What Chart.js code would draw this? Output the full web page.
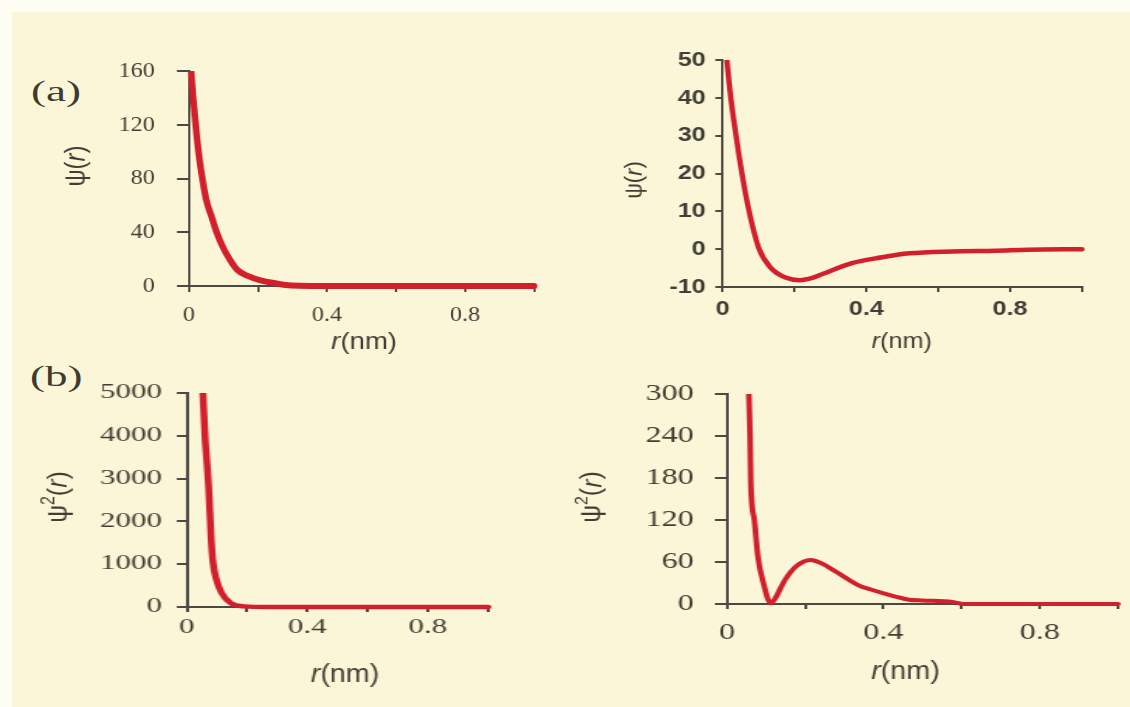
<!DOCTYPE html>
<html>
<head>
<meta charset="utf-8">
<script src="https://cdn.jsdelivr.net/npm/chart.js@4.4.1/dist/chart.umd.min.js"></script>
<style>
  html, body { margin: 0; padding: 0; }
  body { width: 1130px; height: 707px; background: #fefdf3; position: relative; overflow: hidden; }
  #paper { position: absolute; left: 12px; top: 12px; right: 0; bottom: 0; background: #fcf6d8; }
  canvas { position: absolute; transform-origin: 0 0; }
  .tag { position: absolute; font-family: "Liberation Serif", "Times New Roman", serif; font-size: 30px;
         color: #3c3b30; transform-origin: 0 0; transform: scaleX(1.5); }
</style>
</head>
<body>
<div id="paper"></div>
<div class="tag" style="left:31px;top:74px">(a)</div>
<div class="tag" style="left:30px;top:359px">(b)</div>
<canvas id="c1"></canvas>
<canvas id="c2"></canvas>
<canvas id="c3"></canvas>
<canvas id="c4"></canvas>
<script>
// shared x axis ticks (0 .. 1 step 0.2)
const xTicks = ['0', '', '0.4', '', '0.8', ''];

// (a) left: psi 1s
const r1 = [0.006, 0.012, 0.02, 0.03, 0.04, 0.05, 0.065, 0.08, 0.1, 0.12, 0.14, 0.17, 0.21, 0.25, 0.28, 0.32, 0.4, 0.6, 0.8, 1.0];
const psi1 = [160, 140, 118, 95, 78, 64, 52, 40, 28, 19, 12, 7.5, 4, 2, 0.8, 0.2, 0, 0, 0, 0];
const yTicks1 = ['0', '40', '80', '120', '160'];

// (a) right: psi 2s
const r2 = [0.012, 0.023, 0.033, 0.054, 0.074, 0.102, 0.135, 0.175, 0.215, 0.25, 0.28, 0.36, 0.44, 0.52, 0.64, 0.76, 0.85, 1.0];
const psi2 = [50, 40, 33, 20, 10, 0, -5, -7.5, -8.2, -7.6, -6.5, -3.7, -2.2, -1.1, -0.6, -0.4, -0.15, 0];
const yTicks2 = ['-10', '0', '10', '20', '30', '40', '50'];

// (b) left: psi^2 1s
const r3 = [0.053, 0.06, 0.072, 0.08, 0.086, 0.098, 0.115, 0.145, 0.19, 0.27, 0.5, 0.8, 1.0];
const psiSq1 = [5000, 3990, 2820, 1650, 1070, 640, 330, 93, 15, 0, 0, 0, 0];
const yTicks3 = ['0', '1000', '2000', '3000', '4000', '5000'];

// (b) right: psi^2 2s
const r4 = [0.056, 0.059, 0.061, 0.07, 0.079, 0.093, 0.112, 0.121, 0.149, 0.177, 0.214, 0.242, 0.279, 0.335, 0.372, 0.428, 0.465, 0.5, 0.577, 0.605, 0.8, 1.0];
const psiSq2 = [300, 238, 172, 120, 68, 30, 1, 6, 35, 54, 63, 58, 46, 27, 20, 11, 6, 5, 3, 0, 0, 0];
const yTicks4 = ['0', '60', '120', '180', '240', '300'];

const RED = '#d1202c';
const INK = '#403f35';
const AXIS = '#4a4944';
const SERIF = '"Liberation Serif", "Times New Roman", serif';
const SANS = '"Liberation Sans", Arial, sans-serif';

// axis titles with italic r / superscript 2, drawn with their own horizontal stretch
function titlePlugin(items, canvasStretch) {
  return {
    id: 'richTitles',
    afterDraw(chart) {
      const ctx = chart.ctx;
      items.forEach(t => {
        ctx.save();
        ctx.translate(t.x, t.y);
        ctx.scale(1.15 / canvasStretch, 1);
        if (t.rot) ctx.rotate(-Math.PI / 2);
        const fontOf = sg => (sg.i ? 'italic ' : '') + (sg.sup ? Math.round(t.size * 0.62) : t.size) + 'px ' + SANS;
        let total = 0;
        const widths = t.segs.map(sg => { ctx.font = fontOf(sg); const w = ctx.measureText(sg.text).width; total += w; return w; });
        let x = -total / 2;
        ctx.fillStyle = INK;
        ctx.textBaseline = 'middle';
        t.segs.forEach((sg, k) => {
          ctx.font = fontOf(sg);
          ctx.fillText(sg.text, x, sg.sup ? -t.size * 0.36 : 0);
          x += widths[k];
        });
        ctx.restore();
      });
    }
  };
}

const psiTitle = [{ text: 'ψ(' }, { text: 'r', i: true }, { text: ')' }];
const psiSqTitle = [{ text: 'ψ' }, { text: '2', sup: true }, { text: '(' }, { text: 'r', i: true }, { text: ')' }];
const rTitle = [{ text: 'r', i: true }, { text: '(nm)' }];

function panel(id, o) {
  const cv = document.getElementById(id);
  cv.width = o.w;
  cv.height = o.h;
  cv.style.left = o.x0 + 'px';
  cv.style.top = o.y0 + 'px';
  cv.style.transform = 'scaleX(' + o.s + ')';
  const tickFont = { family: o.tickFamily, size: o.tickSize, weight: o.tickWeight || 'normal' };
  new Chart(cv, {
    type: 'line',
    data: {
      datasets: [{
        data: o.r.map((r, i) => ({ x: r, y: o.v[i] })),
        borderColor: RED,
        borderWidth: o.lw,
        pointRadius: 0,
        fill: false,
        cubicInterpolationMode: 'monotone',
        borderCapStyle: 'round',
        borderJoinStyle: 'round',
        clip: { left: 4, top: 0, right: 6, bottom: 6 }
      }]
    },
    options: {
      responsive: false,
      animation: false,
      devicePixelRatio: 1,
      events: [],
      layout: { padding: { left: 0, top: o.top, right: o.pr, bottom: 0 } },
      plugins: { legend: { display: false }, tooltip: { enabled: false } },
      scales: {
        x: {
          type: 'linear', min: 0, max: 1,
          afterFit: s => { s.height = o.xh; s.paddingLeft = 0; s.paddingRight = 0; },
          ticks: { stepSize: 0.2, autoSkip: false, maxRotation: 0, padding: o.xPad, font: tickFont, color: INK,
                   callback: (v, i) => xTicks[i] },
          grid: { drawOnChartArea: false, tickLength: o.xTl, color: AXIS, lineWidth: 2 },
          border: { color: AXIS, width: 2 }
        },
        y: {
          type: 'linear', min: o.yMin, max: o.yMax,
          afterFit: s => { s.width = o.left; s.paddingTop = 0; s.paddingBottom = 0; },
          ticks: { stepSize: o.yStep, autoSkip: false, padding: o.yPad, font: tickFont, color: INK,
                   callback: (v, i) => o.yTicks[i] },
          grid: { drawOnChartArea: false, tickLength: o.yTl, color: AXIS, lineWidth: 2 },
          border: { color: AXIS, width: 2 }
        }
      }
    },
    plugins: [titlePlugin([
      { segs: o.yTitle, x: o.ytx, y: o.yty, rot: true, size: o.titleSize },
      { segs: rTitle, x: o.xtx, y: o.xty, rot: false, size: o.titleSize }
    ], o.s)]
  });
}

panel('c1', { x0: 0, y0: 40, w: 509, h: 330, s: 1.1, left: 171.8, top: 31, pr: 23.5, xh: 84,
  r: r1, v: psi1, yMin: 0, yMax: 160, yStep: 40, yTicks: yTicks1,
  tickFamily: SERIF, tickSize: 22, yTl: 11, yPad: 20, xTl: 6, xPad: 10, lw: 6,
  yTitle: psiTitle, ytx: 70, yty: 126, xtx: 331, xty: 302, titleSize: 24 });

panel('c2', { x0: 565, y0: 40, w: 471, h: 330, s: 1.2, left: 131.25, top: 20, pr: 40.2, xh: 83,
  r: r2, v: psi2, yMin: -10, yMax: 50, yStep: 10, yTicks: yTicks2,
  tickFamily: SANS, tickSize: 21, tickWeight: 'bold', yTl: 6, yPad: 8, xTl: 5, xPad: 5, lw: 4.5,
  yTitle: psiTitle, ytx: 58, yty: 140, xtx: 280.7, xty: 302, titleSize: 22 });

panel('c3', { x0: 0, y0: 365, w: 361, h: 342, s: 1.55, left: 120.6, top: 28, pr: 46.2, xh: 100,
  r: r3, v: psiSq1, yMin: 0, yMax: 5000, yStep: 1000, yTicks: yTicks3,
  tickFamily: SERIF, tickSize: 20, yTl: 6.5, yPad: 9.7, xTl: 5, xPad: 4, lw: 4.5,
  yTitle: psiSqTitle, ytx: 38, yty: 132, xtx: 222.6, xty: 310, titleSize: 25 });

panel('c4', { x0: 565, y0: 365, w: 404, h: 342, s: 1.4, left: 115.7, top: 29, pr: 9, xh: 103,
  r: r4, v: psiSq2, yMin: 0, yMax: 300, yStep: 60, yTicks: yTicks4,
  tickFamily: SERIF, tickSize: 23, yTl: 8.6, yPad: 15, xTl: 5, xPad: 10, lw: 4,
  yTitle: psiSqTitle, ytx: 19.8, yty: 132, xtx: 243.2, xty: 307, titleSize: 25 });
</script>
</body>
</html>
